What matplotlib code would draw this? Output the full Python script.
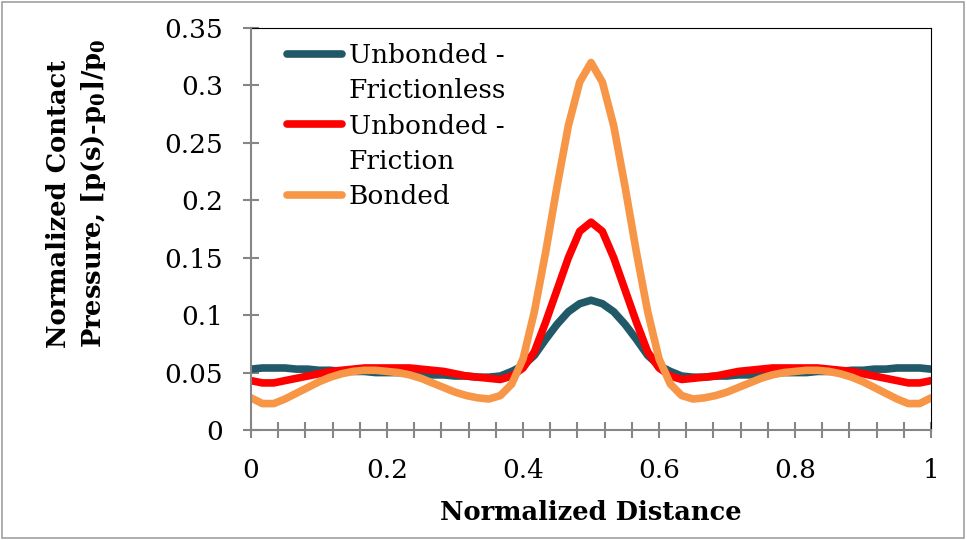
import matplotlib
matplotlib.use("Agg")
import matplotlib.pyplot as plt
from matplotlib.lines import Line2D
from matplotlib.patches import Rectangle
from matplotlib.ticker import MultipleLocator

plt.rcParams['font.family'] = ['DejaVu Serif']
plt.rcParams['mathtext.fontset'] = 'dejavuserif'

# normalized distance, sampled every 1/60
distance = [i / 60 for i in range(61)]

# Unbonded - Frictionless
frictionless = [
    0.053, 0.054, 0.054, 0.054, 0.053, 0.053, 0.052, 0.052, 0.051, 0.051,
    0.051, 0.050, 0.050, 0.050, 0.049, 0.049, 0.048, 0.048, 0.047, 0.047,
    0.046, 0.046, 0.047, 0.051, 0.056, 0.065, 0.079, 0.092, 0.103, 0.110,
    0.113,
    0.110, 0.103, 0.092, 0.079, 0.065, 0.056, 0.051, 0.047, 0.046, 0.046,
    0.047, 0.047, 0.048, 0.048, 0.049, 0.049, 0.050, 0.050, 0.050, 0.051,
    0.051, 0.051, 0.052, 0.052, 0.053, 0.053, 0.054, 0.054, 0.054, 0.053,
]

# Unbonded - Friction
friction = [
    0.043, 0.041, 0.041, 0.043, 0.045, 0.047, 0.049, 0.051, 0.052, 0.053,
    0.054, 0.054, 0.054, 0.054, 0.054, 0.053, 0.052, 0.051, 0.049, 0.047,
    0.046, 0.045, 0.044, 0.047, 0.054, 0.068, 0.094, 0.122, 0.150, 0.173,
    0.181,
    0.173, 0.150, 0.122, 0.094, 0.068, 0.054, 0.047, 0.044, 0.045, 0.046,
    0.047, 0.049, 0.051, 0.052, 0.053, 0.054, 0.054, 0.054, 0.054, 0.054,
    0.053, 0.052, 0.051, 0.049, 0.047, 0.045, 0.043, 0.041, 0.041, 0.043,
]

# Bonded
bonded = [
    0.028, 0.023, 0.023, 0.027, 0.032, 0.037, 0.042, 0.046, 0.049, 0.051,
    0.052, 0.052, 0.051, 0.050, 0.048, 0.045, 0.041, 0.037, 0.033, 0.030,
    0.028, 0.027, 0.030, 0.040, 0.062, 0.103, 0.155, 0.212, 0.265, 0.303,
    0.320,
    0.303, 0.265, 0.212, 0.155, 0.103, 0.062, 0.040, 0.030, 0.027, 0.028,
    0.030, 0.033, 0.037, 0.041, 0.045, 0.048, 0.050, 0.051, 0.052, 0.052,
    0.051, 0.049, 0.046, 0.042, 0.037, 0.032, 0.027, 0.023, 0.023, 0.028,
]

series_names = ["Unbonded - Frictionless", "Unbonded - Friction", "Bonded"]
colors = ["#215968", "#ff0000", "#f79646"]

x_ticks = [0, 0.2, 0.4, 0.6, 0.8, 1.0]
x_ticklabels = ["0", "0.2", "0.4", "0.6", "0.8", "1"]
y_ticks = [0, 0.05, 0.1, 0.15, 0.2, 0.25, 0.3, 0.35]
y_ticklabels = ["0", "0.05", "0.1", "0.15", "0.2", "0.25", "0.3", "0.35"]

fig = plt.figure(figsize=(9.67, 5.4), dpi=100)
ax = fig.add_axes([0.2596, 0.2037, 0.7032, 0.7443])

lines = []
for vals, name, col in zip([frictionless, friction, bonded], series_names, colors):
    ln, = ax.plot(distance, vals, color=col, lw=5.5, label=name, solid_capstyle='round')
    lines.append(ln)

ax.set_xlim(0, 1)
ax.set_ylim(0, 0.35)
ax.set_xticks(x_ticks)
ax.set_xticklabels(x_ticklabels)
ax.xaxis.set_minor_locator(MultipleLocator(0.04))
ax.set_yticks(y_ticks)
ax.set_yticklabels(y_ticklabels)

ax.tick_params(axis='both', which='both', direction='inout', color='#868686',
               width=1.5, labelsize=19, pad=14, length=12)
ax.spines['left'].set_color('#868686')
ax.spines['bottom'].set_color('#868686')
ax.spines['left'].set_linewidth(1.5)
ax.spines['bottom'].set_linewidth(1.5)
ax.spines['top'].set_color('black')
ax.spines['right'].set_color('black')
ax.spines['left'].set_zorder(5)
ax.spines['bottom'].set_zorder(5)

ax.set_xlabel("Normalized Distance", fontsize=18.5, fontweight='bold')
ax.xaxis.set_label_coords(0.5, -0.175)
ax.set_ylabel("Normalized Contact\nPressure, [p(s)-p$_\\mathbf{0}$]/p$_\\mathbf{0}$",
              fontsize=18.5, fontweight='bold', linespacing=1.35,
              multialignment='left')
ax.yaxis.set_label_coords(-0.211, 0.59)

# legend: each label may span two rows, handle sits on the first row
blank = Line2D([], [], color='none')
handles = [lines[0], blank, lines[1], blank, lines[2]]
labels = ["Unbonded -", "Frictionless", "Unbonded -", "Friction", "Bonded"]
leg = ax.legend(handles, labels, loc='upper left', bbox_to_anchor=(0.053, 0.963),
                frameon=False, fontsize=19, handlelength=2.1, handletextpad=0.23,
                labelspacing=0.39, borderpad=0, borderaxespad=0)

fig.patches.append(Rectangle((0.002, 0.003), 0.995, 0.993, transform=fig.transFigure,
                             fill=False, edgecolor='#a0a0a0', lw=1.2))

fig.savefig("out.png", dpi=100)
